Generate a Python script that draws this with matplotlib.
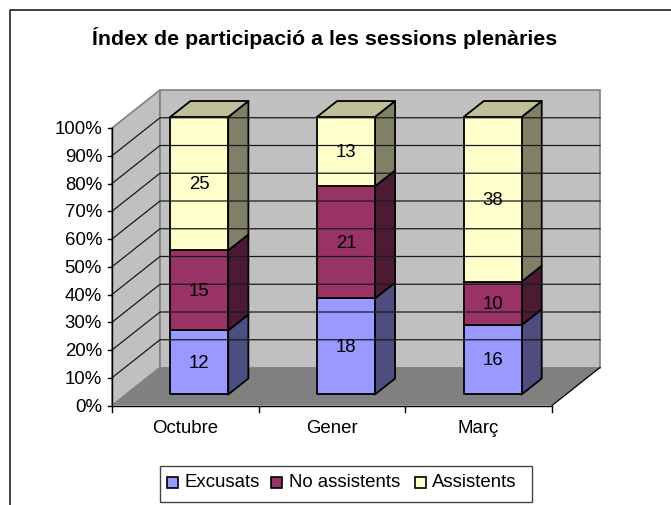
import matplotlib
matplotlib.use("Agg")
from matplotlib import pyplot as plt
from matplotlib.patches import Polygon, Rectangle

months = ["Octubre", "Gener", "Març"]
excusats = [12, 18, 16]
no_assistents = [15, 21, 10]
assistents = [25, 13, 38]
series_names = ["Excusats", "No assistents", "Assistents"]
percent_ticks = [0, 10, 20, 30, 40, 50, 60, 70, 80, 90, 100]

front_colors = ["#9999ff", "#993366", "#ffffcc"]
side_colors = ["#4d4d80", "#4d1a33", "#808066"]
top_color = "#bfbf99"

plt.rcParams["font.family"] = ["Liberation Sans", "DejaVu Sans"]

# plot box in pixels: front plane and how far the depth goes
left, right = 112, 552
base, height = 406.5, 277.5
depth_x, depth_y = 48, 38
z0, z1 = 0.29, 0.71
bar_width = 0.395
label_size = 13.4


def project(cat, pct, z=0.0):
    # oblique projection of (category position, percent, depth) to pixels
    x = left + cat * (right - left) / len(months) + z * depth_x
    y = base - pct / 100 * height - z * depth_y
    return x, y


fig = plt.figure(figsize=(6.71, 5.06), dpi=100)
ax = fig.add_axes([0, 0, 1, 1])
ax.set_xlim(0, 671)
ax.set_ylim(506, 0)
ax.axis("off")

# chart frame: only left and top edges fall inside the picture
ax.plot([9.5, 9.5, 671], [506, 11, 11], color="#222222", lw=1.2)

n = len(months)
wall_col = "#c0c0c0"
edge_col = "#808080"
ax.add_patch(Polygon([project(0, 0), project(0, 100), project(0, 100, 1), project(0, 0, 1)],
                     fc=wall_col, ec=edge_col, lw=1.2))
ax.add_patch(Polygon([project(0, 0, 1), project(0, 100, 1), project(n, 100, 1), project(n, 0, 1)],
                     fc=wall_col, ec=edge_col, lw=1.2))
ax.add_patch(Polygon([project(0, 0), project(n, 0), project(n, 0, 1), project(0, 0, 1)],
                     fc="#808080", ec="none"))
ax.plot(*zip(project(n, 0), project(n, 0, 1)), color="black", lw=0.9)

# gridlines on both walls
for p in percent_ticks[1:-1]:
    ax.plot(*zip(project(0, p), project(0, p, 1), project(n, p, 1)), color="#1a1a1a", lw=0.9)

# axes and ticks
ax.plot(*zip(project(0, 0), project(0, 100)), color="black", lw=1.0)
ax.plot(*zip(project(0, 0), project(n, 0)), color="black", lw=1.0)
for p in percent_ticks:
    x, y = project(0, p)
    ax.plot([x - 4, x], [y, y], color="black", lw=1.0)
    ax.text(x - 10, y + 0.7, f"{p}%", ha="right", va="center", fontsize=label_size, color="black")
for i in range(n + 1):
    x, y = project(i, 0)
    ax.plot([x, x], [y, y + 6], color="black", lw=1.0)
for i, m in enumerate(months):
    x, y = project(i + 0.5, 0)
    ax.text(x, y + 22, m, ha="center", va="center", fontsize=label_size, color="black")

# stacked bars
for i in range(n):
    total = excusats[i] + no_assistents[i] + assistents[i]
    x0 = i + 0.5 - bar_width / 2
    x1 = i + 0.5 + bar_width / 2
    bottom = 0
    for vals, fc, sc in zip([excusats, no_assistents, assistents], front_colors, side_colors):
        p0 = bottom
        p1 = bottom + vals[i] / total * 100
        ax.add_patch(Polygon([project(x1, p0, z0), project(x1, p1, z0), project(x1, p1, z1), project(x1, p0, z1)],
                             fc=sc, ec="black", lw=1.3, joinstyle="round"))
        ax.add_patch(Polygon([project(x0, p0, z0), project(x1, p0, z0), project(x1, p1, z0), project(x0, p1, z0)],
                             fc=fc, ec="black", lw=1.3, joinstyle="round"))
        cx, cy = project(i + 0.5, (p0 + p1) / 2, z0)
        ax.text(cx, cy, str(vals[i]), ha="center", va="center", fontsize=label_size, color="black")
        bottom = p1
    ax.add_patch(Polygon([project(x0, 100, z0), project(x1, 100, z0), project(x1, 100, z1), project(x0, 100, z1)],
                         fc=top_color, ec="black", lw=1.3, joinstyle="round"))

ax.text(324.5, 38, "Índex de participació a les sessions plenàries", ha="center", va="center",
        fontsize=15.4, fontweight="bold", color="black")

# legend built by hand so the boxes stay where the reference has them
ax.add_patch(Rectangle((160, 466.5), 371.5, 36, fc="white", ec="#444444", lw=1.0))
for name, fc, sx, tx in zip(series_names, front_colors, [167, 270.5, 415], [185, 289, 432]):
    ax.add_patch(Rectangle((sx, 478), 11, 11, fc=fc, ec="black", lw=1.2))
    ax.text(tx, 482.5, name, ha="left", va="center", fontsize=label_size, color="black")

fig.savefig("out.png", dpi=100)
